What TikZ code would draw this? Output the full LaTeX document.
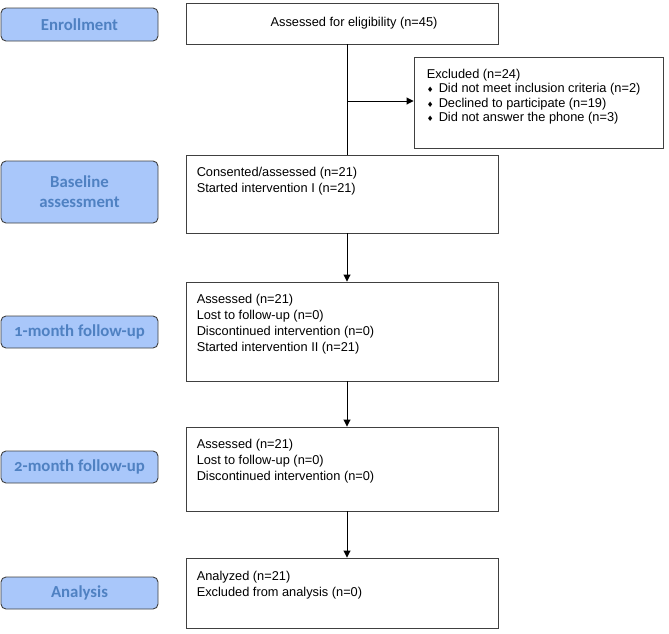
\documentclass[tikz,border=0pt]{standalone}
\usepackage{fontspec}
\setmainfont{Liberation Sans}
\newfontfamily\stagefont[Numbers=OldStyle]{Carlito}
\newfontfamily\symfont{DejaVu Sans}
\usetikzlibrary{arrows.meta}
\definecolor{stagefill}{HTML}{A9C7FA}
\definecolor{stagetext}{HTML}{4F81C2}
\definecolor{boxline}{HTML}{404040}
\newcommand\dmd{\makebox[0pt][r]{\makebox[12pt][l]{\symfont\fontsize{7.5}{7.5}\selectfont ♦}}}
\tikzset{
  stage/.style={draw=boxline, line width=0.9pt, fill=stagefill, rounded corners=5pt,
    minimum width=157pt, align=center, inner sep=0pt,
    font=\stagefont\bfseries\fontsize{16.8}{20}\selectfont, text=stagetext},
  flowbox/.style={draw=boxline, line width=0.9pt, inner sep=0pt},
  boxtext/.style={anchor=north west, inner sep=0pt, align=left,
    font=\fontsize{12.8}{16.3}\selectfont},
  flowarrow/.style={line width=0.9pt, -{Triangle[width=7pt,length=7pt]}}
}
\begin{document}
\begin{tikzpicture}[x=1pt, y=-1pt]
\useasboundingbox (0,0) rectangle (669,633);

% stage labels on the left
\node[stage, minimum height=33pt] (sEnroll) at (79.5,24.5) {Enrollment};
\node[stage, minimum height=62pt] (sBase) at (79.5,192) {Baseline\\[0pt]assessment};
\node[stage, minimum height=32pt] (sOne) at (79.5,332) {1-month follow-up};
\node[stage, minimum height=32pt] (sTwo) at (79.5,467) {2-month follow-up};
\node[stage, minimum height=32pt] (sAnal) at (79.5,593) {Analysis};

% flow boxes
\node[flowbox, minimum width=312pt, minimum height=41pt] (assess) at (342,23.5) {};
\node[flowbox, minimum width=249pt, minimum height=91pt] (excl) at (538.5,102.5) {};
\node[flowbox, minimum width=312pt, minimum height=78pt] (base) at (342,194) {};
\node[flowbox, minimum width=312pt, minimum height=99pt] (one) at (342,331.5) {};
\node[flowbox, minimum width=312pt, minimum height=84pt] (two) at (342,469) {};
\node[flowbox, minimum width=312pt, minimum height=70pt] (anal) at (342,593) {};

% box contents
\node[inner sep=0pt, font=\fontsize{12.8}{16}\selectfont] (assessText)
  at ([xshift=12pt]assess.center) {Assessed for eligibility (n=45)};
\node[boxtext, font=\fontsize{12.8}{14.6}\selectfont] (exclText) at ([shift={(13,12)}]excl.north west)
  {Excluded (n=24)\\
   \hspace*{12pt}\dmd Did not meet inclusion criteria (n=2)\\
   \hspace*{12pt}\dmd Declined to participate (n=19)\\
   \hspace*{12pt}\dmd Did not answer the phone (n=3)};
\node[boxtext] (baseText) at ([shift={(11,12)}]base.north west)
  {Consented/assessed (n=21)\\Started intervention I (n=21)};
\node[boxtext] (oneText) at ([shift={(11,12)}]one.north west)
  {Assessed (n=21)\\Lost to follow-up (n=0)\\Discontinued intervention (n=0)\\Started intervention II (n=21)};
\node[boxtext] (twoText) at ([shift={(11,12)}]two.north west)
  {Assessed (n=21)\\Lost to follow-up (n=0)\\Discontinued intervention (n=0)};
\node[boxtext] (analText) at ([shift={(11,13)}]anal.north west)
  {Analyzed (n=21)\\Excluded from analysis (n=0)};

% connectors
\coordinate (trunk) at (347,0);
\coordinate (branch) at (347,101);
\draw[line width=0.9pt] (assess.south -| trunk) -- (base.north -| trunk);
\draw[flowarrow] (branch) -- (branch -| excl.west);
\draw[flowarrow] (base.south -| trunk) -- (one.north -| trunk);
\draw[flowarrow] (one.south -| trunk) -- (two.north -| trunk);
\draw[flowarrow] (two.south -| trunk) -- (anal.north -| trunk);
\end{tikzpicture}
\end{document}
